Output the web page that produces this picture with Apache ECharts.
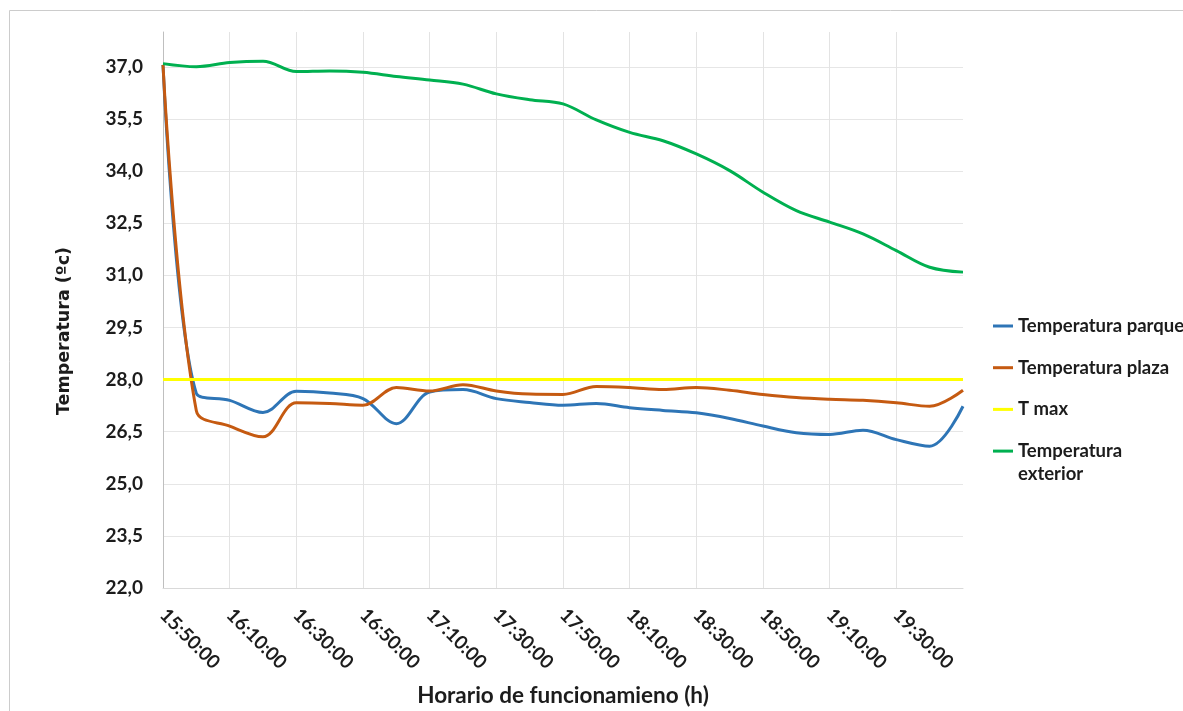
<!DOCTYPE html>
<html>
<head>
<meta charset="utf-8">
<title>Temperatura</title>
<script src="https://cdn.jsdelivr.net/npm/echarts@6/dist/echarts.min.js"></script>
<style>
  html, body { margin: 0; padding: 0; background: #ffffff; }
  #chart { width: 1183px; height: 711px; }
</style>
</head>
<body>
<div id="chart"></div>
<script>
// Sampling times, every 10 minutes
const horas = [
  '15:50:00', '16:00:00', '16:10:00', '16:20:00', '16:30:00', '16:40:00', '16:50:00',
  '17:00:00', '17:10:00', '17:20:00', '17:30:00', '17:40:00', '17:50:00', '18:00:00',
  '18:10:00', '18:20:00', '18:30:00', '18:40:00', '18:50:00', '19:00:00', '19:10:00',
  '19:20:00', '19:30:00', '19:40:00', '19:50:00'
];

// Temperatures (ºC)
const tempParque = [
  37.05, 27.60, 27.40, 27.05, 27.66, 27.61, 27.45, 26.73, 27.64, 27.71, 27.45, 27.34, 27.26,
  27.31, 27.19, 27.11, 27.04, 26.88, 26.66, 26.47, 26.42, 26.54, 26.27, 26.08, 27.23
];
const tempPlaza = [
  37.05, 27.10, 26.66, 26.35, 27.33, 27.31, 27.26, 27.77, 27.67, 27.85, 27.67, 27.58, 27.57,
  27.80, 27.77, 27.71, 27.77, 27.69, 27.57, 27.48, 27.43, 27.40, 27.33, 27.23, 27.69
];
const tMaxValor = 28.0;
const tMax = horas.map(() => tMaxValor);
const tempExterior = [
  37.09, 37.00, 37.12, 37.16, 36.86, 36.88, 36.84, 36.72, 36.62, 36.50, 36.22, 36.05, 35.93,
  35.47, 35.11, 34.87, 34.49, 34.01, 33.39, 32.86, 32.53, 32.19, 31.71, 31.23, 31.09
];

// Value axis settings
const yMin = 22.0;
const yMax = 38.0;
const yStep = 1.5;

const boldFont = 'Lato';
const textColor = '#1c1c1c';

// Show every second time label, but not the final one
const cadaDos = (idx) => idx % 2 === 0 && idx < horas.length - 1;

const chart = echarts.init(document.getElementById('chart'), null, { renderer: 'canvas' });

const lineSeries = (name, data, color) => ({
  name: name,
  type: 'line',
  data: data,
  smooth: 0.35,
  showSymbol: false,
  symbol: 'none',
  lineStyle: { color: color, width: 3 },
  itemStyle: { color: color },
  emphasis: { disabled: true },
  animation: false
});

chart.setOption({
  backgroundColor: '#ffffff',
  animation: false,
  graphic: [
    {
      type: 'rect',
      shape: { x: 9.5, y: 10.5, width: 1300, height: 800 },
      style: { fill: 'none', stroke: '#cccccc', lineWidth: 1 },
      silent: true,
      z: -1
    },
    {
      // second line of the last legend entry
      type: 'text',
      silent: true,
      style: {
        x: 1018,
        y: 474,
        text: 'exterior',
        align: 'left',
        verticalAlign: 'middle',
        font: 'bold 18.5px ' + boldFont,
        fill: textColor
      }
    }
  ],
  grid: {
    left: 163,
    right: 220,
    top: 32,
    bottom: 123,
    containLabel: false,
    outerBoundsMode: 'none'
  },
  legend: {
    orient: 'vertical',
    left: 993,
    top: 316,
    padding: 0,
    icon: 'rect',
    itemWidth: 20,
    itemHeight: 3,
    itemGap: 21.7,
    selectedMode: false,
    textStyle: {
      fontFamily: boldFont,
      fontWeight: 'bold',
      fontSize: 18.5,
      lineHeight: 20,
      color: textColor
    },
    formatter: (name) => name === 'Temperatura exterior' ? 'Temperatura' : name,
    data: ['Temperatura parque', 'Temperatura plaza', 'T max', 'Temperatura exterior']
  },
  xAxis: {
    type: 'category',
    data: horas,
    boundaryGap: false,
    name: 'Horario de funcionamieno (h)',
    nameLocation: 'middle',
    nameGap: 96,
    nameTextStyle: {
      fontFamily: boldFont,
      fontWeight: 'bold',
      fontSize: 22.5,
      color: textColor
    },
    axisLine: { show: true, lineStyle: { color: '#d9d9d9', width: 1 } },
    axisTick: { show: false },
    axisLabel: {
      interval: cadaDos,
      rotate: -45,
      margin: 24,
      fontFamily: boldFont,
      fontWeight: 'bold',
      fontSize: 19,
      color: textColor
    },
    splitLine: {
      show: true,
      interval: cadaDos,
      lineStyle: { color: '#e3e3e3', width: 1 }
    }
  },
  yAxis: {
    type: 'value',
    min: yMin,
    max: yMax,
    interval: yStep,
    name: 'Temperatura (ºc)',
    nameLocation: 'middle',
    nameGap: 90,
    nameRotate: 90,
    nameTextStyle: {
      fontFamily: 'DejaVu Sans',
      fontWeight: 'bold',
      fontSize: 17.5,
      color: textColor,
      padding: [0, 42, 0, 0]
    },
    axisLine: { show: true, lineStyle: { color: '#bfbfbf', width: 1 } },
    axisTick: { show: false },
    axisLabel: {
      showMaxLabel: false,
      margin: 20,
      fontFamily: boldFont,
      fontWeight: 'bold',
      fontSize: 19,
      color: textColor,
      formatter: (v) => v.toFixed(1).replace('.', ',')
    },
    splitLine: {
      show: true,
      showMaxLine: false,
      lineStyle: { color: '#e6e6e6', width: 1 }
    }
  },
  series: [
    lineSeries('Temperatura parque', tempParque, '#2e75b6'),
    lineSeries('Temperatura plaza', tempPlaza, '#c55a11'),
    lineSeries('T max', tMax, '#ffff00'),
    lineSeries('Temperatura exterior', tempExterior, '#00b050')
  ]
});
</script>
</body>
</html>
